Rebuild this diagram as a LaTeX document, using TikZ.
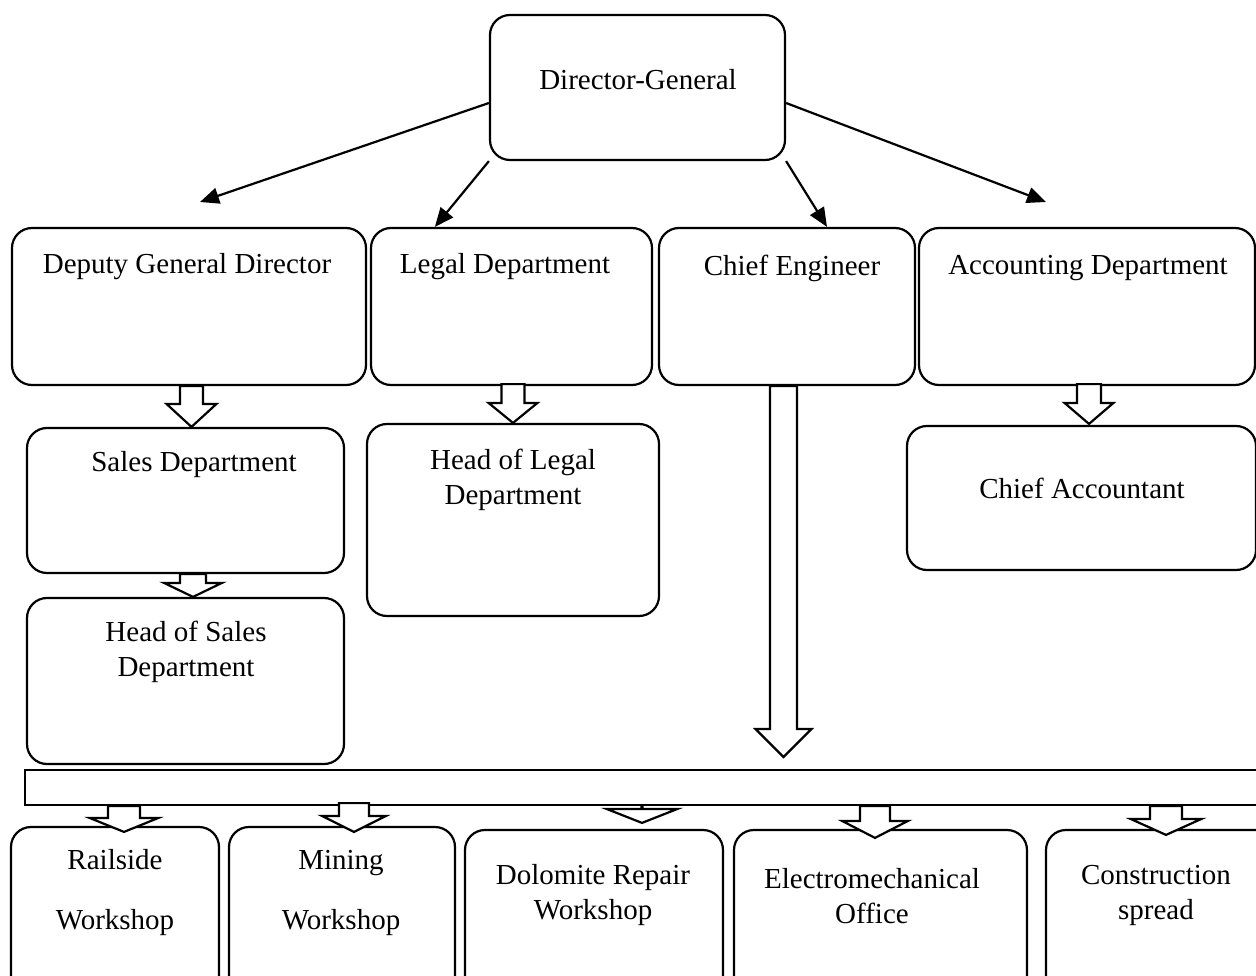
\documentclass[tikz,border=0pt]{standalone}
\usepackage{fontspec}
\setmainfont{Liberation Serif}
\usetikzlibrary{arrows.meta,calc}
\newcommand{\hollowarrow}[5]{%
  \draw[hollow] let \p1=(#1), \p2=(#2) in
    (\x2-#3,\y1) -- (\x2-#3,\y2+#5) -- (\x2-#4,\y2+#5) -- (\x2,\y2)
    -- (\x2+#4,\y2+#5) -- (\x2+#3,\y2+#5) -- (\x2+#3,\y1) -- cycle;}
\begin{document}
\begin{tikzpicture}[x=1pt,y=-1pt,
    box/.style={draw, line width=2.2pt, rounded corners=20pt, inner sep=0pt},
    txt/.style={font=\fontsize{29}{35}\selectfont, align=center, inner sep=0pt},
    wide/.style={font=\fontsize{29}{60}\selectfont, align=center, inner sep=0pt},
    hollow/.style={draw, line width=2.2pt, fill=white, line join=miter},
    link/.style={line width=2.2pt, -{Triangle[length=19pt,width=16pt]}}]
    \clip (0,0) rectangle (1256,976);
    \node[box, minimum width=295pt, minimum height=145pt] (dg) at (637.5,87.5) {};
    \node[box, minimum width=354pt, minimum height=157pt] (dep) at (189,306.5) {};
    \node[box, minimum width=281pt, minimum height=157pt] (legal) at (511.5,306.5) {};
    \node[box, minimum width=256pt, minimum height=157pt] (ce) at (787,306.5) {};
    \node[box, minimum width=336pt, minimum height=157pt] (acc) at (1087,306.5) {};
    \node[box, minimum width=317pt, minimum height=145pt] (sales) at (185.5,500.5) {};
    \node[box, minimum width=317pt, minimum height=166pt] (hsales) at (185.5,681) {};
    \node[box, minimum width=292pt, minimum height=192pt] (hlegal) at (513,520) {};
    \node[box, minimum width=349pt, minimum height=144pt] (cacc) at (1081.5,498) {};
    \node[draw, line width=2.2pt, minimum width=1275pt, minimum height=35pt, inner sep=0pt] (bar) at (662.5,787.5) {};
    \node[box, minimum width=208pt, minimum height=173pt] (rail) at (115,913.5) {};
    \node[box, minimum width=226pt, minimum height=173pt] (mine) at (342,913.5) {};
    \node[box, minimum width=258pt, minimum height=170pt] (dolo) at (594,915) {};
    \node[box, minimum width=293pt, minimum height=170pt] (elec) at (880.5,915) {};
    \node[box, minimum width=244pt, minimum height=170pt] (cons) at (1168,915) {};

    \coordinate (dep-in) at (200,202);
    \coordinate (acc-in) at (1046,202);
    \coordinate (ce-end) at (783.5,757);
    \draw[link] ([yshift=-15.5pt]dg.west) -- (dep-in);
    \draw[link] (dg.south west) -- ([xshift=65pt]legal.north west);
    \draw[link] (dg.south east) -- ([xshift=40pt]ce.north);
    \draw[link] ([yshift=-15.5pt]dg.east) -- (acc-in);

    \hollowarrow{dep.south}{[xshift=6pt]sales.north}{11.5pt}{25pt}{23pt}
    \hollowarrow{sales.south}{[xshift=7.5pt]hsales.north}{13pt}{29pt}{14pt}
    \hollowarrow{[yshift=2pt]legal.south}{hlegal.north}{11.5pt}{24.5pt}{20pt}
    \hollowarrow{[yshift=2pt]acc.south}{[xshift=7.5pt,yshift=1pt]cacc.north}{12pt}{24.5pt}{21pt}
    \hollowarrow{ce.south}{ce-end}{13.5pt}{28pt}{28pt}
    \hollowarrow{bar.south}{[xshift=9pt,yshift=-6pt]rail.north}{16pt}{34.5pt}{14pt}
    \hollowarrow{[yshift=3pt]bar.south}{[xshift=12pt,yshift=-6pt]mine.north}{15pt}{32pt}{16pt}
    \hollowarrow{bar.south}{[xshift=48pt,yshift=6pt]dolo.north}{0.5pt}{35.5pt}{14pt}
    \hollowarrow{bar.south}{[xshift=-5.5pt,yshift=-9pt]elec.north}{15pt}{33pt}{17pt}
    \hollowarrow{bar.south}{[xshift=-2pt,yshift=-6pt]cons.north}{16pt}{35.5pt}{16pt}

    \node[txt] (dg-t) at (638,80) {Director-General};
    \node[txt] (dep-t) at (187,267) {Deputy General Director};
    \node[txt] (legal-t) at (505,267) {Legal Department};
    \node[txt] (ce-t) at (792,268) {Chief Engineer};
    \node[txt] (acc-t) at (1088,268) {Accounting Department};
    \node[txt] (sales-t) at (194,465) {Sales Department};
    \node[txt] (hsales-t) at (186,652) {Head of Sales\\Department};
    \node[txt] (hlegal-t) at (513,480) {Head of Legal\\Department};
    \node[txt] (cacc-t) at (1082,488) {Chief Accountant};
    \node[wide] (rail-t) at (115,893) {Railside\\Workshop};
    \node[wide] (mine-t) at (341,893) {Mining\\Workshop};
    \node[txt] (dolo-t) at (593,895) {Dolomite Repair\\Workshop};
    \node[txt] (elec-t) at (872,896) {Electromechanical\\Office};
    \node[txt] (cons-t) at (1156,895) {Construction\\spread};
\end{tikzpicture}
\end{document}
